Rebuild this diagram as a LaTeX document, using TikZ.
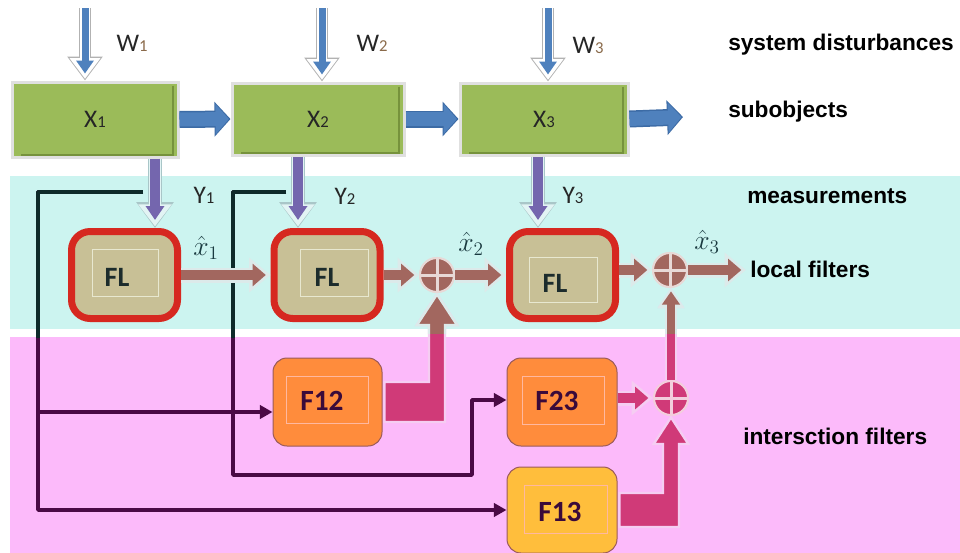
\documentclass[tikz,border=0pt]{standalone}
\usepackage{fontspec}
\setmainfont{Liberation Sans}
\newfontfamily\calfont{Carlito}
\usetikzlibrary{arrows.meta,calc}
\definecolor{cyanband}{HTML}{CCF4F0}
\definecolor{pinkband}{HTML}{FCBAFA}
\definecolor{boxgreen}{HTML}{9BBB59}
\definecolor{dkgreen}{HTML}{76923C}
\definecolor{arrblue}{HTML}{4F81BD}
\definecolor{arrblueD}{HTML}{3C6BA5}
\definecolor{ypurple}{HTML}{7466AE}
\definecolor{yedge}{HTML}{A9C6C8}
\definecolor{ylight}{HTML}{E2F4F4}
\definecolor{brownar}{HTML}{A2675F}
\definecolor{brlight}{HTML}{DCEAEA}
\definecolor{pinkar}{HTML}{D03A78}
\definecolor{pklight}{HTML}{F5CDF2}
\definecolor{fltan}{HTML}{C8C096}
\definecolor{flred}{HTML}{D62820}
\definecolor{flinner}{HTML}{E8E8D0}
\definecolor{forange}{HTML}{FF8C3C}
\definecolor{fyellow}{HTML}{FFBE3C}
\definecolor{fborder}{HTML}{9A5A5A}
\definecolor{finner}{HTML}{FFB8A0}
\definecolor{linepink}{HTML}{4A0A45}
\definecolor{lineteal}{HTML}{0E2A2A}
\definecolor{txtdark}{HTML}{262626}
\definecolor{subcol}{HTML}{8A6A4A}
\definecolor{fltext}{HTML}{1C2C2C}
\definecolor{ftext}{HTML}{3A0A3A}
\definecolor{hatcol}{HTML}{1A3A40}
\newcommand{\duo}[3]{\draw[#1] #3; \draw[#2] #3;}
\newcommand{\trio}[4]{\draw[#1] #4; \draw[#2] #4; \draw[#3] #4;}
\newcommand{\sub}[1]{{\fontsize{12.5}{12.5}\selectfont #1}}
\begin{document}
\begin{tikzpicture}[x=0.75pt,y=-0.75pt,
  xbox/.style={draw=black!12, line width=2.25pt, fill=boxgreen, inner sep=0pt,
    font=\calfont\fontsize{19}{20}\selectfont, text=txtdark},
  flbox/.style={draw=flred, line width=5.25pt, fill=fltan, rounded corners=14pt,
    minimum width=79.5pt, minimum height=65.25pt, inner sep=0pt},
  fltxt/.style={font=\calfont\bfseries\fontsize{21}{24}\selectfont, text=fltext, inner sep=0pt},
  fbox/.style={draw=fborder, line width=0.75pt, rounded corners=10.5pt, inner sep=0pt},
  ftxt/.style={font=\calfont\bfseries\fontsize{22}{24}\selectfont, text=ftext, inner sep=0pt},
  innerfl/.style={draw=flinner, line width=0.75pt},
  innerf/.style={draw=finner, line width=0.75pt},
  sumnode/.style={circle, minimum size=25.5pt, inner sep=0pt, fill=#1,
    draw=white!75!#1, line width=1.5pt,
    path picture={\draw[white!75!#1, line width=2.25pt]
      (path picture bounding box.north) -- (path picture bounding box.south)
      (path picture bounding box.west) -- (path picture bounding box.east);}},
  lab/.style={font=\calfont\fontsize{19}{20}\selectfont, text=txtdark, inner sep=0pt},
  bandtxt/.style={anchor=west, font=\bfseries\fontsize{17}{20}\selectfont, text=black, inner sep=0pt},
  xhat/.style={font=\fontsize{20}{22}\selectfont, text=hatcol, inner sep=0pt},
  blO/.style={draw=arrblueD, line width=12.75pt, -{Triangle[width=25.5pt,length=12pt]}},
  blI/.style={draw=arrblue, line width=10.5pt, shorten >=1.2pt, -{Triangle[width=22pt,length=10pt]}},
  wO1/.style={draw=black!30, line width=9pt, -{Triangle[width=25.5pt,length=18pt]}},
  wO2/.style={draw=white, line width=7pt, shorten >=1.2pt, -{Triangle[width=22pt,length=15.5pt]}},
  wI/.style={draw=arrblue, line width=5.25pt, shorten >=5.25pt, -{Triangle[width=12.75pt,length=9.75pt]}},
  yO1/.style={draw=yedge, line width=10.5pt, -{Triangle[width=27pt,length=19.5pt]}},
  yO2/.style={draw=ylight, line width=9pt, shorten >=1.2pt, -{Triangle[width=24pt,length=16.5pt]}},
  yI/.style={draw=ypurple, line width=7.5pt, shorten >=6pt, -{Triangle[width=13.5pt,length=10.5pt]}},
  brO/.style={draw=brlight, line width=11.25pt, -{Triangle[width=25pt,length=16pt]}},
  brI/.style={draw=brownar, line width=7.5pt, shorten >=3.5pt, -{Triangle[width=16.5pt,length=10pt]}},
  pkO/.style={draw=pklight, line width=11.25pt, -{Triangle[width=25pt,length=16pt]}},
  pkI/.style={draw=pinkar, line width=7.5pt, shorten >=3.5pt, -{Triangle[width=16.5pt,length=10pt]}},
  vO/.style={draw=#1, line width=9pt, -{Triangle[width=19pt,length=15pt]}},
  vI/.style={draw=#1, line width=6pt, shorten >=2.5pt, -{Triangle[width=13pt,length=10pt]}},
  bent/.style 2 args={fill=#1, draw=#2, line width=1.8pt, line join=miter},
  dline/.style={draw=#1, line width=2.6pt, line join=round, -{Triangle[length=9.5pt,width=10pt]}}
]
\useasboundingbox (0,0) rectangle (960,553);
\fill[white] (0,0) rectangle (960,553);
\fill[cyanband] (10,176) rectangle (960,329);
\fill[pinkband] (10,337) rectangle (960,553);

% subobject boxes
\node[xbox, minimum width=124.5pt, minimum height=56.25pt] (X1) at (95,119.5) {X\sub{1}};
\node[xbox, minimum width=129pt, minimum height=54pt] (X2) at (318,119) {X\sub{2}};
\node[xbox, minimum width=126pt, minimum height=54pt] (X3) at (544,119) {X\sub{3}};
\foreach \b in {X1,X2,X3}{
  \draw[dkgreen, line width=1.5pt] ($(\b.north east)+(-7,5)$) -- ($(\b.south east)+(-7,-4)$) -- ($(\b.south west)+(10,-4)$);
}

% local filters
\node[flbox] (FL1) at (124.5,275) {};
\node[flbox] (FL2) at (327,275) {};
\node[flbox] (FL3) at (562.5,275) {};
\draw[innerfl] (92,249) rectangle (158,296);
\draw[innerfl] (300,249) rectangle (368,296);
\draw[innerfl] (529,257) rectangle (597,302);
\node[fltxt] (FL1t) at (117,277) {FL};
\node[fltxt] (FL2t) at (327,277) {FL};
\node[fltxt] (FL3t) at (555,283) {FL};

% intersection filters
\node[fbox, fill=forange, minimum width=81.75pt, minimum height=66pt] (F12) at (327.5,402) {};
\node[fbox, fill=forange, minimum width=82.5pt, minimum height=66pt] (F23) at (562,402) {};
\node[fbox, fill=fyellow, minimum width=82.5pt, minimum height=64.5pt] (F13) at (562,510) {};
\draw[innerf] (286,376) rectangle (368,423);
\draw[innerf] (522,376) rectangle (604,424);
\draw[innerf] (524,485) rectangle (607,533);
\node[ftxt] (F12t) at (322,401) {F12};
\node[ftxt] (F23t) at (557,401) {F23};
\node[ftxt] (F13t) at (560,512) {F13};

% summing junctions
\node[sumnode=brownar] (S1) at (437,275) {};
\node[sumnode=brownar] (S2) at (670,270) {};
\node[sumnode=pinkar] (S3) at (671,398) {};

% coordinates
\coordinate (w1) at (85,8);
\coordinate (w2) at (322,8);
\coordinate (w3) at (548,8);
\coordinate (ya1) at (155,0);
\coordinate (ya2) at (298,0);
\coordinate (ya3) at (538,0);
\coordinate (o1) at (683,117);
\coordinate (o3) at (746,270);
\coordinate (d1) at (143,192);
\coordinate (ja) at (38,412);
\coordinate (jb) at (38,510);
\coordinate (d2) at (286,192);
\coordinate (kb) at (233,475);
\coordinate (kc) at (472,400);

% measurement lines
\newcommand{\dlines}[1]{%
  \draw[dline=#1] (d1) -| (jb) -- (jb -| F13.west);
  \draw[dline=#1] (ja) -- (ja -| F12.west);
  \draw[dline=#1] (d2) -| (kb) -| (kc) -- (kc -| F23.west);}
\dlines{linepink}
\begin{scope}
  \clip (0,0) rectangle (960,337);
  \dlines{lineteal}
\end{scope}

% blue arrows
\duo{blO}{blI}{(X1.east) -- (X2.west)}
\duo{blO}{blI}{(X2.east) -- (X3.west)}
\duo{blO}{blI}{(X3.east) -- (o1)}
\trio{wO1}{wO2}{wI}{(w1) -- (X1.north -| w1)}
\trio{wO1}{wO2}{wI}{(w2) -- (X2.north -| w2)}
\trio{wO1}{wO2}{wI}{(w3) -- (X3.north -| w3)}

% measurement arrows
\trio{yO1}{yO2}{yI}{(X1.south -| ya1) -- (FL1.north -| ya1)}
\trio{yO1}{yO2}{yI}{(X2.south -| ya2) -- (FL2.north -| ya2)}
\trio{yO1}{yO2}{yI}{(X3.south -| ya3) -- (FL3.north -| ya3)}

% estimate arrows
\duo{brO}{brI}{(FL1.east) -- (FL2.west)}
\duo{brO}{brI}{(FL2.east) -- (S1.west)}
\duo{brO}{brI}{(S1.east) -- (FL3.west)}
\duo{brO}{brI}{(FL3.east |- S2.west) -- (S2.west)}
\duo{brO}{brI}{(S2.east) -- (o3)}
\duo{pkO}{pkI}{(F23.east |- S3.west) -- (S3.west)}

% bent arrows and vertical link
\newcommand{\bentA}[2]{%
  \filldraw[bent={#1}{#2}] let \p1=(F12.east), \p2=(S1.south) in
    (\x1+1.5pt,\y1+15pt) -- (\x2-6pt,\y1+15pt) -- (\x2-6pt,\y2-24pt) -- (\x2-15pt,\y2-24pt)
    -- (\x2,\y2-1pt) -- (\x2+15pt,\y2-24pt) -- (\x2+6pt,\y2-24pt) -- (\x2+6pt,\y1-15pt)
    -- (\x1+1.5pt,\y1-15pt) -- cycle;}
\bentA{pinkar}{pklight}
\duo{vO=pklight}{vI=pinkar}{(S3.north) -- (S3.north |- S2.south)}
\begin{scope}
  \clip (0,0) rectangle (960,333);
  \bentA{brownar}{brlight}
  \duo{vO=brlight}{vI=brownar}{(S3.north) -- (S3.north |- S2.south)}
\end{scope}
\filldraw[bent={pinkar}{pklight}] let \p1=(F13.east), \p2=(S3.south) in
  (\x1+1.5pt,\y1+12.75pt) -- (\x2-6pt,\y1+12.75pt) -- (\x2-6pt,\y2-21pt) -- (\x2-13pt,\y2-21pt)
  -- (\x2,\y2-1pt) -- (\x2+13pt,\y2-21pt) -- (\x2+6pt,\y2-21pt) -- (\x2+6pt,\y1-12.75pt)
  -- (\x1+1.5pt,\y1-12.75pt) -- cycle;

% redraw junctions on top
\node[sumnode=brownar] at (S1) {};
\node[sumnode=brownar] at (S2) {};
\node[sumnode=pinkar] at (S3) {};

% labels
\node[lab] (W1l) at (132,43) {W\textcolor{subcol}{\sub{1}}};
\node[lab] (W2l) at (372,43) {W\textcolor{subcol}{\sub{2}}};
\node[lab] (W3l) at (588,45) {W\textcolor{subcol}{\sub{3}}};
\node[lab] (Y1l) at (204,195) {Y\sub{1}};
\node[lab] (Y2l) at (345,196) {Y\sub{2}};
\node[lab] (Y3l) at (573,195) {Y\sub{3}};
\node[xhat] (xh1) at (206,248) {$\hat{x}_1$};
\node[xhat] (xh2) at (471,244) {$\hat{x}_2$};
\node[xhat] (xh3) at (707,242) {$\hat{x}_3$};

\node[bandtxt] (t1) at (728,45) {system disturbances};
\node[bandtxt] (t2) at (728,112) {subobjects};
\node[bandtxt] (t3) at (747,196) {measurements};
\node[bandtxt] (t4) at (750,269) {local filters};
\node[bandtxt] (t5) at (743,436) {intersction filters};
\end{tikzpicture}
\end{document}
